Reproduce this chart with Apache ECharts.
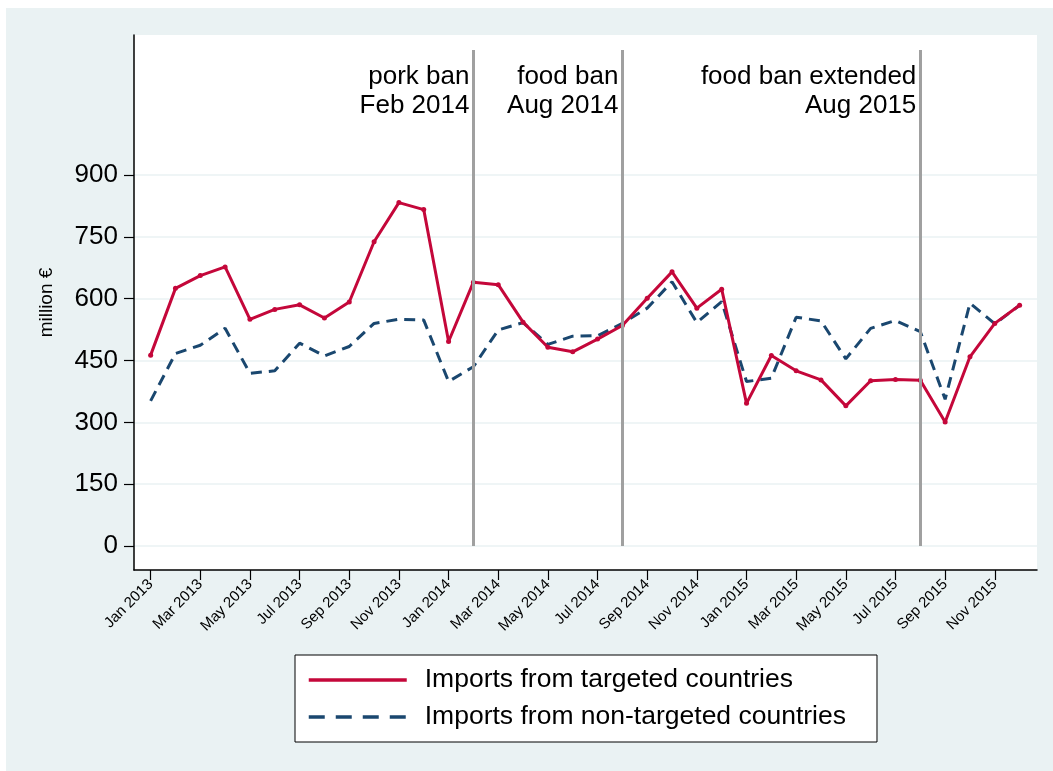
<!DOCTYPE html>
<html>
<head>
<meta charset="utf-8">
<script src="https://cdn.jsdelivr.net/npm/echarts@6/dist/echarts.min.js"></script>
<style>
  html, body { margin: 0; padding: 0; background: #ffffff; }
  #bg { position: absolute; left: 6px; top: 8px; width: 1047px; height: 763px; background: #EAF2F3; }
  #chart { position: absolute; left: 0; top: 0; width: 1053px; height: 771px; }
</style>
</head>
<body>
<div id="bg"></div>
<div id="chart"></div>
<script>
const monthNames = ['Jan','Feb','Mar','Apr','May','Jun','Jul','Aug','Sep','Oct','Nov','Dec'];
const years = [2013, 2014, 2015];
const categories = [];
years.forEach(y => monthNames.forEach(m => categories.push(m + ' ' + y)));

const targeted = [463,625,656,677,550,574,585,553,592,738,833,816,
                  496,640,634,543,482,471,502,535,601,665,577,623,
                  346,462,425,403,340,401,404,402,301,459,540,584];
const nonTargeted = [352,467,487,528,419,425,492,461,484,540,550,548,
                     399,435,524,542,489,509,510,540,577,641,542,593,
                     399,407,555,546,454,528,547,520,356,589,539,584];

const yTicks = [0,150,300,450,600,750,900];
const xTickIdx = [0,2,4,6,8,10,12,14,16,18,20,22,24,26,28,30,32,34];

const banIdx = [13, 19, 31];
const banLabels = ['pork ban\nFeb 2014', 'food ban\nAug 2014', 'food ban extended\nAug 2015'];
const banLineTop = 1203;
const banLabelY = 1102;

const seriesNames = ['Imports from targeted countries', 'Imports from non-targeted countries'];
const RED = '#C4073A';
const NAVY = '#1A476F';
const FONT = '"Liberation Sans", Arial, sans-serif';

const chart = echarts.init(document.getElementById('chart'), null, { renderer: 'canvas' });

chart.setOption({
  animation: false,
  backgroundColor: 'transparent',
  textStyle: { fontFamily: FONT, color: '#000' },
  grid: {
    left: 134, top: 35, width: 903, height: 535,
    show: true, backgroundColor: '#ffffff', borderWidth: 0
  },
  xAxis: {
    type: 'value',
    min: -0.67, max: 35.7,
    axisLine: { onZero: false, lineStyle: { color: '#000', width: 1.5 } },
    axisTick: { show: true, length: 10, customValues: xTickIdx, lineStyle: { color: '#000', width: 1.2 } },
    axisLabel: {
      customValues: xTickIdx,
      rotate: 45, margin: 12,
      fontSize: 15, color: '#000', fontFamily: FONT,
      formatter: v => categories[Math.round(v)] || ''
    },
    splitLine: { show: false }
  },
  yAxis: {
    type: 'value',
    min: -58.2, max: 1239.6,
    name: 'million €',
    nameLocation: 'middle',
    nameGap: 78,
    nameRotate: 90,
    nameTextStyle: { fontSize: 19, color: '#000', fontFamily: FONT },
    axisLine: { onZero: false, lineStyle: { color: '#000', width: 1.5 } },
    axisTick: { show: true, length: 10, customValues: yTicks, lineStyle: { color: '#000', width: 1.2 } },
    axisLabel: { customValues: yTicks, margin: 16, fontSize: 26, color: '#000', fontFamily: FONT },
    splitLine: { show: true, lineStyle: { color: '#EAF2F3', width: 1.5 } }
  },
  legend: {
    data: [
      { name: seriesNames[0], lineStyle: { width: 3.5, color: RED } },
      { name: seriesNames[1], lineStyle: { width: 3.5, color: NAVY, type: [16, 11] } }
    ],
    orient: 'vertical',
    left: 295, top: 655,
    padding: [10, 31, 10, 12],
    itemGap: 7,
    itemWidth: 98, itemHeight: 14,
    backgroundColor: '#ffffff',
    borderColor: '#000', borderWidth: 1, borderRadius: 0,
    itemStyle: { opacity: 0 },
    textStyle: { fontSize: 26.5, color: '#000', fontFamily: FONT, lineHeight: 30, padding: [0, 0, 0, 13] },
    selectedMode: false
  },
  series: [
    {
      name: 'bans',
      type: 'scatter',
      z: 1,
      symbolSize: 0,
      silent: true,
      itemStyle: { opacity: 1 },
      data: banIdx.map((x, i) => ({ value: [x, banLabelY], label: { formatter: banLabels[i] } })),
      label: {
        show: true, position: 'left', distance: 4,
        align: 'right', verticalAlign: 'middle', opacity: 1,
        fontSize: 26, lineHeight: 29, color: '#000', fontFamily: FONT
      },
      markLine: {
        silent: true,
        symbol: 'none',
        label: { show: false },
        lineStyle: { color: '#A0A0A0', width: 3, type: 'solid', opacity: 1 },
        data: banIdx.map(x => [{ coord: [x, 0] }, { coord: [x, banLineTop] }])
      }
    },
    {
      name: seriesNames[1],
      type: 'line',
      z: 3,
      data: nonTargeted.map((v, i) => [i, v]),
      symbol: 'none',
      lineStyle: { color: NAVY, width: 3, type: [11, 7] },
      itemStyle: { color: NAVY }
    },
    {
      name: seriesNames[0],
      type: 'line',
      z: 4,
      data: targeted.map((v, i) => [i, v]),
      symbol: 'circle',
      symbolSize: 5,
      lineStyle: { color: RED, width: 3 },
      itemStyle: { color: RED }
    }
  ]
});
</script>
</body>
</html>
